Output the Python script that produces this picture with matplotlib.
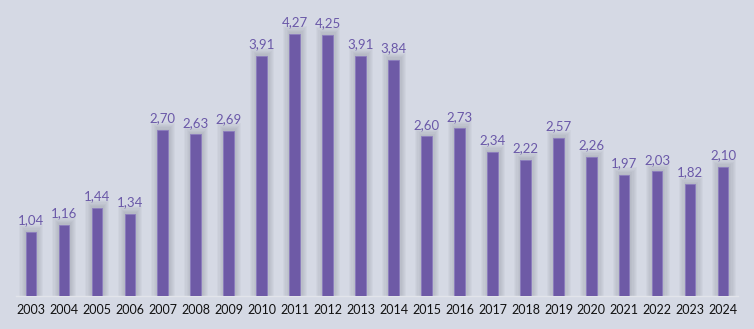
import numpy as np
import matplotlib.pyplot as plt

years = [str(y) for y in range(2003, 2025)]
values = [1.04, 1.16, 1.44, 1.34, 2.70, 2.63, 2.69, 3.91, 4.27, 4.25, 3.91,
          3.84, 2.60, 2.73, 2.34, 2.22, 2.57, 2.26, 1.97, 2.03, 1.82, 2.10]

BG = '#D5D9E4'
BAR = '#6E5AA6'
LABEL = '#6A58A8'

plt.rcParams['font.family'] = ['Lato', 'DejaVu Sans']

fig = plt.figure(figsize=(7.54, 3.29), dpi=100)
fig.patch.set_facecolor(BG)
ax = fig.add_axes([0.021, 0.1003, 0.958, 0.8966])
ax.set_facecolor(BG)

x = np.arange(len(years))
width = 0.31

# soft shadow behind each bar
for k in range(6, 0, -1):
    pad = 0.035 * k
    ax.bar(x + 0.02, np.array(values) + pad * 0.6, width + 2 * pad,
           color='#767B88', alpha=0.06, linewidth=0, zorder=1)

bars = ax.bar(x, values, width, color=BAR, edgecolor='#8C7DBE',
              linewidth=0.6, zorder=3)

for bar, val in zip(bars, values):
    ax.annotate(f'{val:.2f}'.replace('.', ','),
                (bar.get_x() + bar.get_width() / 2, val),
                textcoords='offset points', xytext=(0, 4),
                ha='center', va='bottom', fontsize=9.5, color=LABEL, zorder=4)

ax.set_xlim(-0.45, len(years) - 0.55)
ax.set_ylim(0, 4.8)
ax.set_xticks(x)
ax.set_xticklabels(years, fontsize=9, color='#111111')
ax.tick_params(axis='x', length=0, pad=6)
ax.set_yticks([])
for side in ['top', 'right', 'left']:
    ax.spines[side].set_visible(False)
ax.spines['bottom'].set_color('#E2E4EA')
ax.spines['bottom'].set_linewidth(1.0)

fig.savefig('out.png', dpi=100, facecolor=BG)
